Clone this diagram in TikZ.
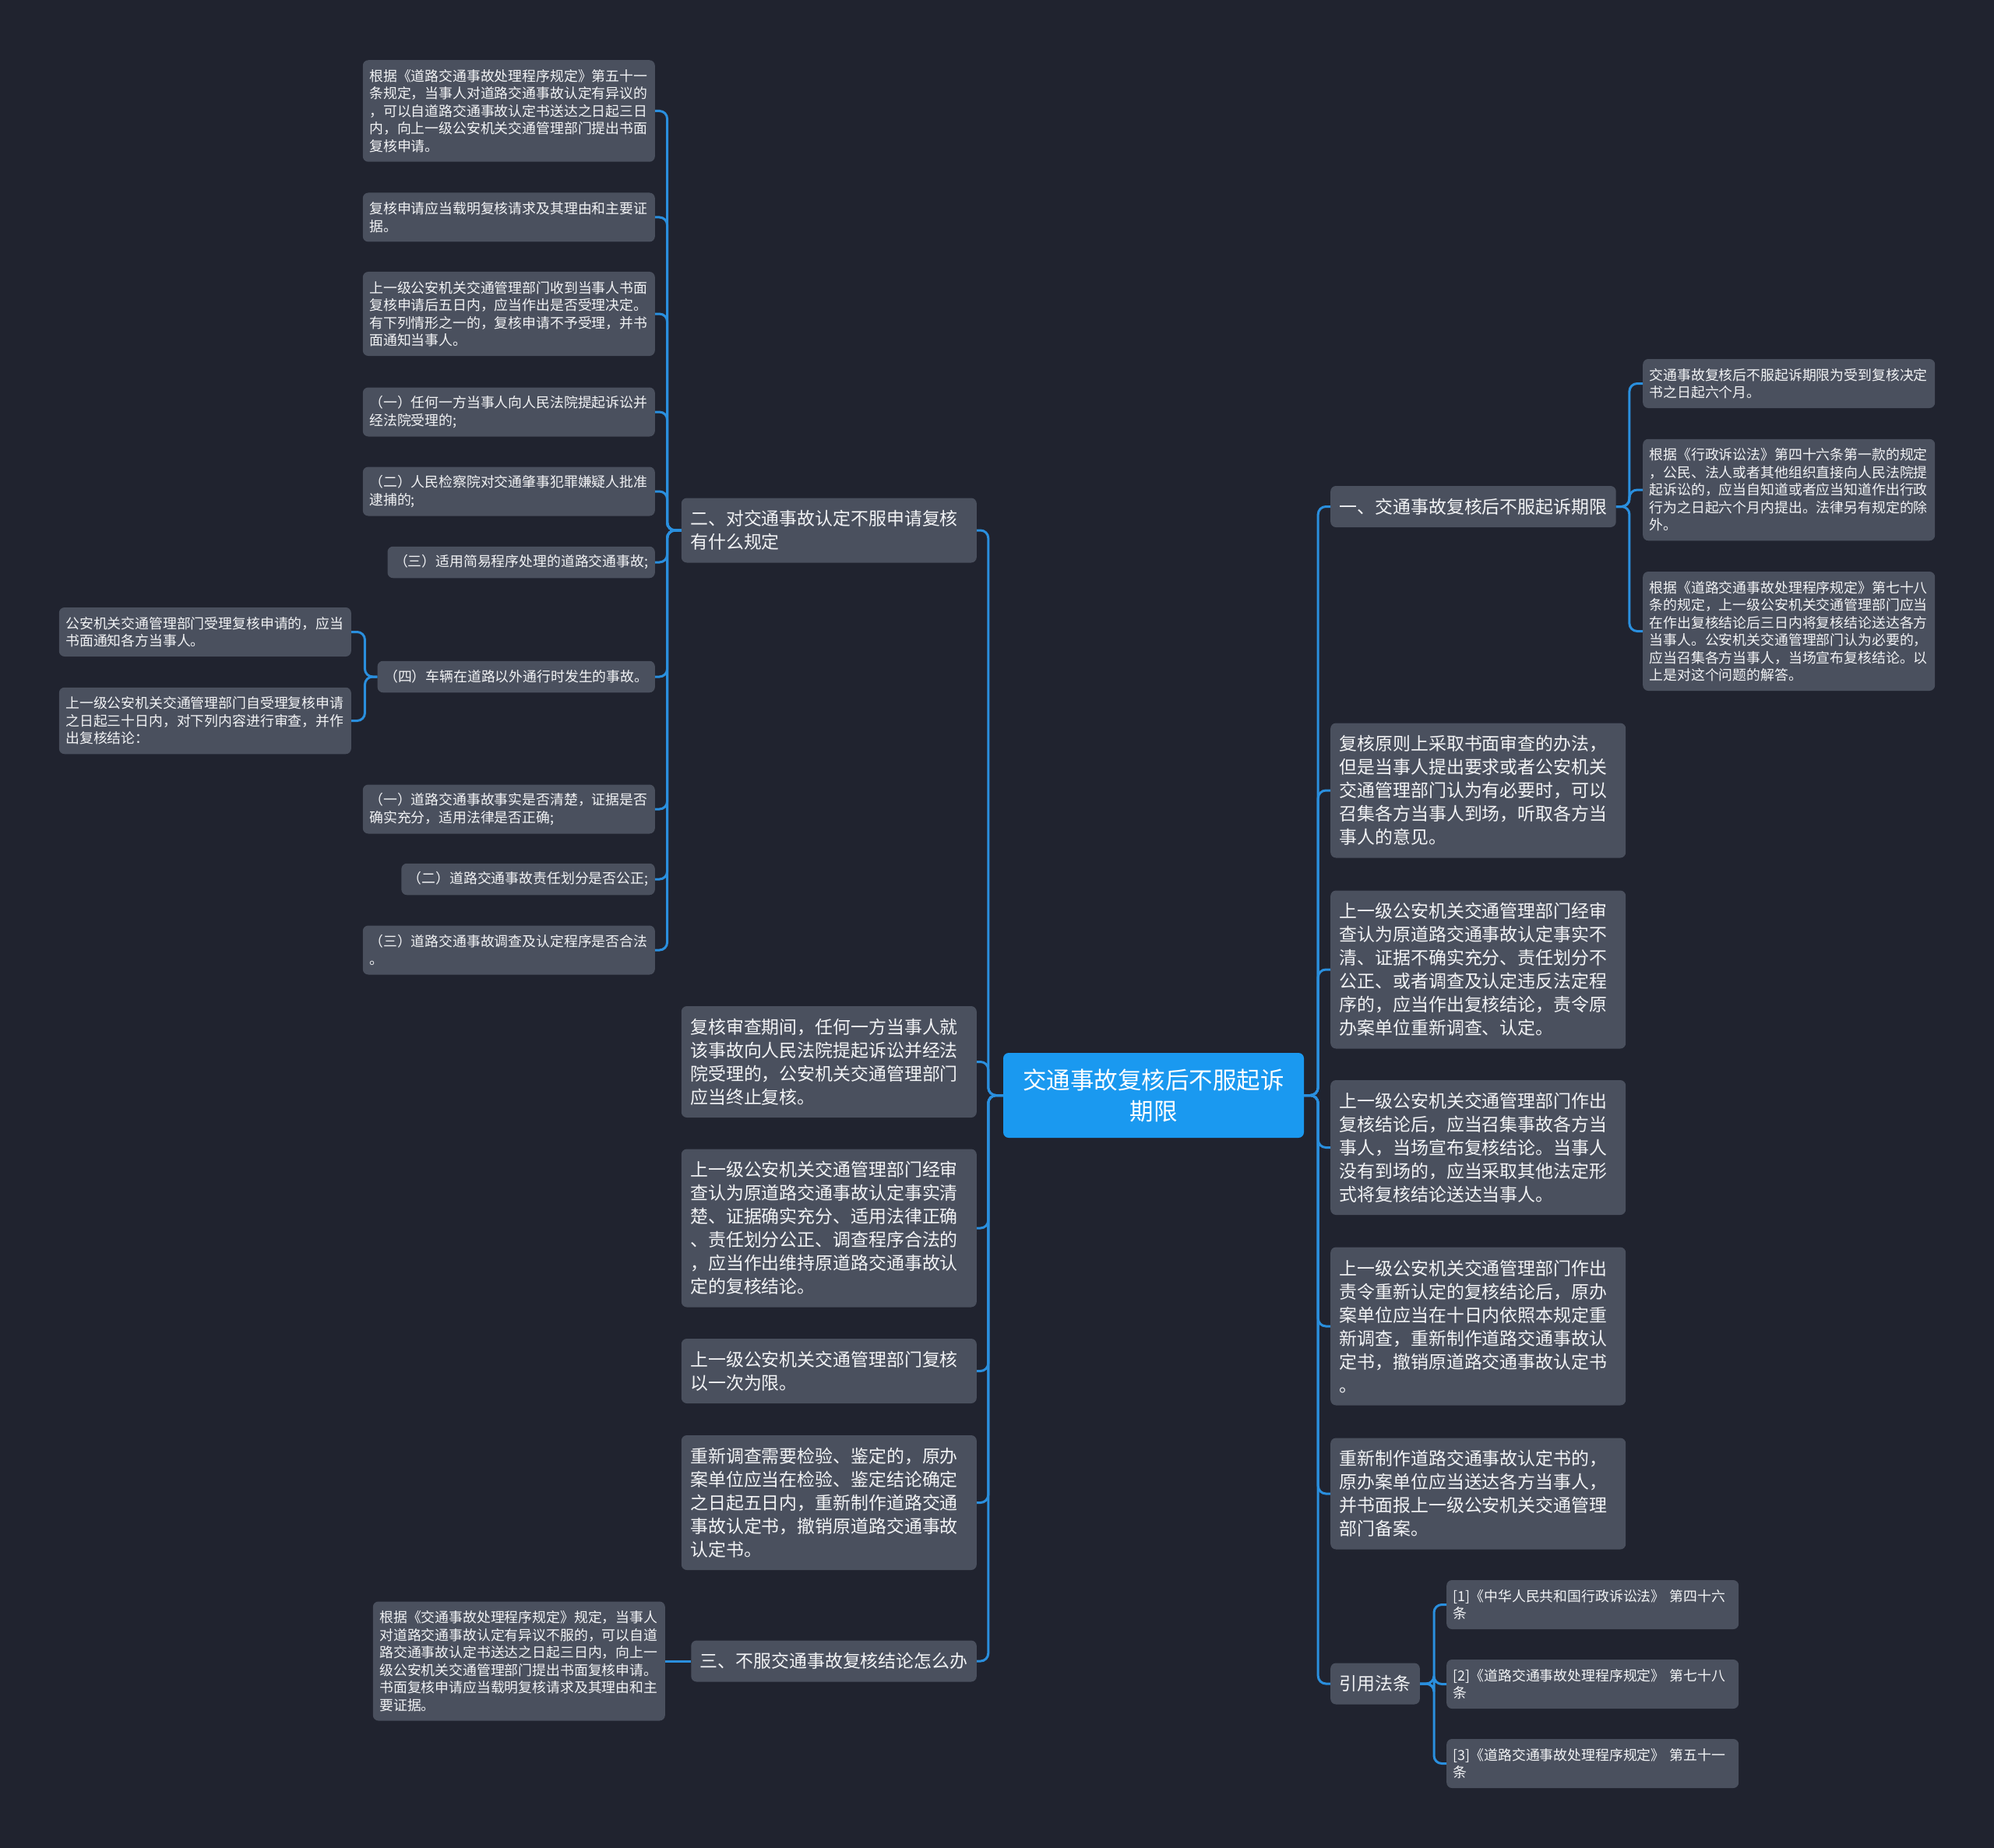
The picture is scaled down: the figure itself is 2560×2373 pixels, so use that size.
\documentclass[tikz,border=0pt]{standalone}
\usepackage{fontspec}
\setmainfont{Noto Sans CJK SC}
\usepackage{tikz}
\definecolor{hgrund}{RGB}{32,35,47}
\definecolor{knoten}{RGB}{74,80,94}
\definecolor{wurzel}{RGB}{26,153,240}
\definecolor{linie}{RGB}{42,143,222}
\definecolor{schrift}{RGB}{242,243,245}
\newcommand{\klein}{\fontsize{17.85pt}{22.5pt}\selectfont}
\newcommand{\mittel}{\fontsize{22.9pt}{30pt}\selectfont}
\newcommand{\gross}{\fontsize{30.5pt}{40pt}\selectfont}

\begin{document}
\begin{tikzpicture}[x=1pt, y=-1pt,
		box/.style={fill=knoten, text=schrift, rounded corners=7pt, align=left, inner ysep=0pt},
		klein/.style={box, font=\klein, inner xsep=8.5pt, minimum height={22.5pt*#1+18pt}},
		kleinb/.style={klein=#1, text width=358pt},
		mittel/.style={box, font=\mittel, inner xsep=11.5pt, minimum height={30pt*#1+23pt}},
		mittelb/.style={mittel=#1, text width=356pt},
		wurzel/.style={fill=wurzel, text=white, rounded corners=7pt, font=\gross, align=center, minimum width=386pt, minimum height=109pt},
		ast/.style={draw=linie, line width=3pt, rounded corners=10pt}]
	%Hintergrund
	\fill[hgrund] (0,0) rectangle (2560,2373);
	% Wurzel
	\node[wurzel] (root) at (1481,1406.5) {交通事故复核后不服起诉\\期限};
	% linke Seite
	\node[mittelb=2, anchor=east] (zwei) at (1254,681) {二、对交通事故认定不服申请复核\\有什么规定};
	\node[mittelb=4, anchor=east] (pruef) at (1254,1363.5) {复核审查期间，任何一方当事人就\\该事故向人民法院提起诉讼并经法\\院受理的，公安机关交通管理部门\\应当终止复核。};
	\node[mittelb=6, anchor=east] (bestaet) at (1254,1577) {上一级公安机关交通管理部门经审\\查认为原道路交通事故认定事实清\\楚、证据确实充分、适用法律正确\\、责任划分公正、调查程序合法的\\，应当作出维持原道路交通事故认\\定的复核结论。};
	\node[mittelb=2, anchor=east] (einmal) at (1254,1760.5) {上一级公安机关交通管理部门复核\\以一次为限。};
	\node[mittelb=5, anchor=east] (neu) at (1254,1929.5) {重新调查需要检验、鉴定的，原办\\案单位应当在检验、鉴定结论确定\\之日起五日内，重新制作道路交通\\事故认定书，撤销原道路交通事故\\认定书。};
	\node[mittel=1, anchor=east] (drei) at (1254,2133) {三、不服交通事故复核结论怎么办};
	% Blaetter von zwei
	\node[kleinb=5, anchor=east] (k1) at (841,142.5) {根据《道路交通事故处理程序规定》第五十一\\条规定，当事人对道路交通事故认定有异议的\\，可以自道路交通事故认定书送达之日起三日\\内，向上一级公安机关交通管理部门提出书面\\复核申请。};
	\node[kleinb=2, anchor=east] (k2) at (841,279) {复核申请应当载明复核请求及其理由和主要证\\据。};
	\node[kleinb=4, anchor=east] (k3) at (841,403) {上一级公安机关交通管理部门收到当事人书面\\复核申请后五日内，应当作出是否受理决定。\\有下列情形之一的，复核申请不予受理，并书\\面通知当事人。};
	\node[kleinb=2, anchor=east] (k4) at (841,529) {（一）任何一方当事人向人民法院提起诉讼并\\经法院受理的;};
	\node[kleinb=2, anchor=east] (k5) at (841,631) {（二）人民检察院对交通肇事犯罪嫌疑人批准\\逮捕的;};
	\node[klein=1, anchor=east] (k6) at (841,722) {（三）适用简易程序处理的道路交通事故;};
	\node[klein=1, anchor=east] (k7) at (841,869) {（四）车辆在道路以外通行时发生的事故。};
	\node[kleinb=2, anchor=east] (k8) at (841,1039) {（一）道路交通事故事实是否清楚，证据是否\\确实充分，适用法律是否正确;};
	\node[klein=1, anchor=east] (k9) at (841,1129) {（二）道路交通事故责任划分是否公正;};
	\node[kleinb=2, anchor=east] (k10) at (841,1220) {（三）道路交通事故调查及认定程序是否合法\\。};
	\node[kleinb=2, anchor=east] (v1) at (451,811.5) {公安机关交通管理部门受理复核申请的，应当\\书面通知各方当事人。};
	\node[kleinb=3, anchor=east] (v2) at (451,925.5) {上一级公安机关交通管理部门自受理复核申请\\之日起三十日内，对下列内容进行审查，并作\\出复核结论：};
	\node[kleinb=6, anchor=east] (grund) at (854,2133) {根据《交通事故处理程序规定》规定，当事人\\对道路交通事故认定有异议不服的，可以自道\\路交通事故认定书送达之日起三日内，向上一\\级公安机关交通管理部门提出书面复核申请。\\书面复核申请应当载明复核请求及其理由和主\\要证据。};
	% rechte Seite
	\node[mittel=1, anchor=west] (eins) at (1708,650.5) {一、交通事故复核后不服起诉期限};
	\node[mittelb=5, anchor=west] (r4) at (1708,1015) {复核原则上采取书面审查的办法，\\但是当事人提出要求或者公安机关\\交通管理部门认为有必要时，可以\\召集各方当事人到场，听取各方当\\事人的意见。};
	\node[mittelb=6, anchor=west] (r5) at (1708,1245) {上一级公安机关交通管理部门经审\\查认为原道路交通事故认定事实不\\清、证据不确实充分、责任划分不\\公正、或者调查及认定违反法定程\\序的，应当作出复核结论，责令原\\办案单位重新调查、认定。};
	\node[mittelb=5, anchor=west] (r6) at (1708,1473.5) {上一级公安机关交通管理部门作出\\复核结论后，应当召集事故各方当\\事人，当场宣布复核结论。当事人\\没有到场的，应当采取其他法定形\\式将复核结论送达当事人。};
	\node[mittelb=6, anchor=west] (r7) at (1708,1703) {上一级公安机关交通管理部门作出\\责令重新认定的复核结论后，原办\\案单位应当在十日内依照本规定重\\新调查，重新制作道路交通事故认\\定书，撤销原道路交通事故认定书\\。};
	\node[mittelb=4, anchor=west] (r8) at (1708,1918) {重新制作道路交通事故认定书的，\\原办案单位应当送达各方当事人，\\并书面报上一级公安机关交通管理\\部门备案。};
	\node[mittel=1, anchor=west] (gesetz) at (1708,2162) {引用法条};
	% Blaetter von eins
	\node[kleinb=2, anchor=west] (e1) at (2109,492.5) {交通事故复核后不服起诉期限为受到复核决定\\书之日起六个月。};
	\node[kleinb=5, anchor=west] (e2) at (2109,629) {根据《行政诉讼法》第四十六条第一款的规定\\，公民、法人或者其他组织直接向人民法院提\\起诉讼的，应当自知道或者应当知道作出行政\\行为之日起六个月内提出。法律另有规定的除\\外。};
	\node[kleinb=6, anchor=west] (e3) at (2109,810.5) {根据《道路交通事故处理程序规定》第七十八\\条的规定，上一级公安机关交通管理部门应当\\在作出复核结论后三日内将复核结论送达各方\\当事人。公安机关交通管理部门认为必要的，\\应当召集各方当事人，当场宣布复核结论。以\\上是对这个问题的解答。};
	% Gesetze
	\node[kleinb=2, anchor=west] (g1) at (1857,2060.5) {[1]《中华人民共和国行政诉讼法》 第四十六\\条};
	\node[kleinb=2, anchor=west] (g2) at (1857,2162.5) {[2]《道路交通事故处理程序规定》 第七十八\\条};
	\node[kleinb=2, anchor=west] (g3) at (1857,2264.5) {[3]《道路交通事故处理程序规定》 第五十一\\条};
	% Verbindungen
	\foreach \k in {zwei,pruef,bestaet,einmal,neu,drei} \draw[ast] (root.west) -- ++(-19,0) |- (\k.east);
	\foreach \k in {eins,r4,r5,r6,r7,r8,gesetz} \draw[ast] (root.east) -- ++(18,0) |- (\k.west);
	\foreach \k in {k1,k2,k3,k4,k5,k6,k7,k8,k9,k10} \draw[ast] (zwei.west) -- ++(-18,0) |- (\k.east);
	\foreach \k in {v1,v2} \draw[ast] (k7.west) -- ++(-16,0) |- (\k.east);
	\foreach \k in {e1,e2,e3} \draw[ast] (eins.east) -- ++(17,0) |- (\k.west);
	\foreach \k in {g1,g2,g3} \draw[ast] (gesetz.east) -- ++(18,0) |- (\k.west);
	\draw[ast] (drei.west) -- (grund.east);
\end{tikzpicture}
\end{document}
